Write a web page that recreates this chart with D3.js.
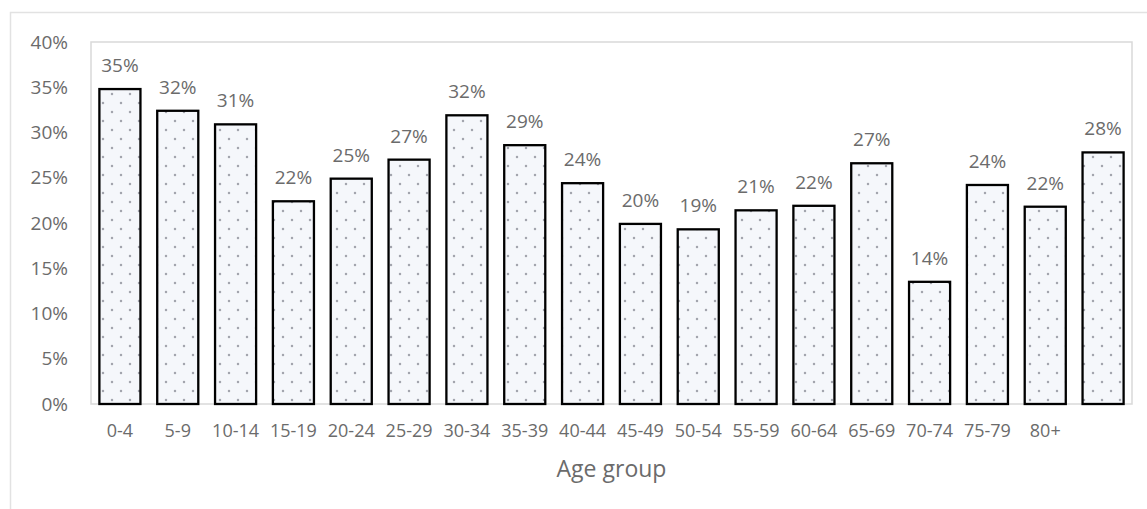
<!DOCTYPE html>
<html>
<head>
<meta charset="utf-8">
<script src="https://cdn.jsdelivr.net/npm/d3@7"></script>
<style>
  html, body { margin: 0; padding: 0; background: #fff; }
  text { font-family: "Open Sans", "Liberation Sans", sans-serif; fill: #6b6b6b; }
</style>
</head>
<body>
<svg id="chart" width="1147" height="509"></svg>
<script>
// Share by age group; the last bar carries no category label in the source.
const categories = ['0-4', '5-9', '10-14', '15-19', '20-24', '25-29', '30-34', '35-39',
  '40-44', '45-49', '50-54', '55-59', '60-64', '65-69', '70-74', '75-79', '80+', ''];
const values = [34.8, 32.4, 30.9, 22.4, 24.9, 27.0, 31.9, 28.6, 24.4,
  19.9, 19.3, 21.4, 21.9, 26.6, 13.5, 24.2, 21.8, 27.8];
const yTicks = [0, 5, 10, 15, 20, 25, 30, 35, 40];
const xTitle = 'Age group';

const svg = d3.select('#chart');
const plot = { left: 91, top: 42, right: 1132, bottom: 404 };

// dotted fill like the office "5%" pattern
const defs = svg.append('defs');
const pat = defs.append('pattern')
  .attr('id', 'dots')
  .attr('patternUnits', 'userSpaceOnUse')
  .attr('width', 18)
  .attr('height', 18);
pat.append('rect').attr('width', 18).attr('height', 18).attr('fill', '#f5f7fb');
pat.selectAll('circle')
  .data([[4, 4], [13, 13]])
  .join('circle')
  .attr('cx', (d) => d[0])
  .attr('cy', (d) => d[1])
  .attr('r', 1.25)
  .attr('fill', '#a3a5ae');

// outer chart border (runs off the right and bottom edges)
svg.append('rect')
  .attr('x', 10.5).attr('y', 12.5)
  .attr('width', 1300).attr('height', 600)
  .attr('fill', 'none')
  .attr('stroke', '#e2e2e2')
  .attr('stroke-width', 1.5);

const x = d3.scaleBand()
  .domain(d3.range(categories.length))
  .range([plot.left, plot.right])
  .paddingInner(0.29)
  .paddingOuter(0.145);

const y = d3.scaleLinear()
  .domain([0, 40])
  .range([plot.bottom, plot.top]);

// plot area border
svg.append('rect')
  .attr('x', plot.left).attr('y', plot.top)
  .attr('width', plot.right - plot.left)
  .attr('height', plot.bottom - plot.top)
  .attr('fill', 'none')
  .attr('stroke', '#d9d9d9')
  .attr('stroke-width', 1.5);

// y axis labels only
const yAxis = svg.append('g')
  .attr('transform', `translate(${plot.left},0)`)
  .call(d3.axisLeft(y).tickValues(yTicks).tickSize(0).tickPadding(23).tickFormat((d) => d + '%'));
yAxis.select('.domain').remove();
yAxis.selectAll('text')
  .style('font-size', '19px')
  .attr('fill', '#6b6b6b');

// bars
svg.append('g')
  .selectAll('rect')
  .data(values)
  .join('rect')
  .attr('x', (d, i) => x(i))
  .attr('y', (d) => y(d))
  .attr('width', x.bandwidth())
  .attr('height', (d) => y(0) - y(d))
  .attr('fill', 'url(#dots)')
  .attr('stroke', '#000')
  .attr('stroke-width', 2.3);

// data labels
svg.append('g')
  .selectAll('text')
  .data(values)
  .join('text')
  .attr('x', (d, i) => x(i) + x.bandwidth() / 2)
  .attr('y', (d) => y(d) - 17)
  .attr('text-anchor', 'middle')
  .style('font-size', '19px')
  .text((d) => Math.round(d) + '%');

// x axis labels
const xAxis = svg.append('g')
  .attr('transform', `translate(0,${plot.bottom})`)
  .call(d3.axisBottom(x).tickSize(0).tickPadding(20).tickFormat((i) => categories[i]));
xAxis.select('.domain').remove();
xAxis.selectAll('text')
  .style('font-size', '18px')
  .attr('fill', '#6b6b6b');

// x axis title
svg.append('text')
  .attr('x', (plot.left + plot.right) / 2)
  .attr('y', 477)
  .attr('text-anchor', 'middle')
  .style('font-size', '23px')
  .text(xTitle);
</script>
</body>
</html>
